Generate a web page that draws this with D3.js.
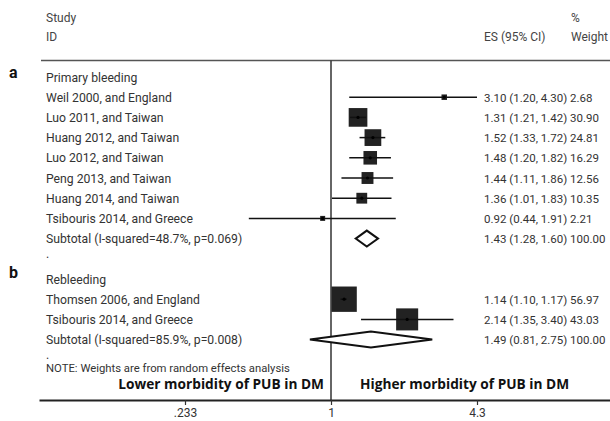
<!DOCTYPE html>
<html>
<head>
<meta charset="utf-8">
<script src="https://cdn.jsdelivr.net/npm/d3@7"></script>
<style>
  body { margin: 0; background: #fff; }
  svg text { font-family: Roboto, "Open Sans", sans-serif; }
</style>
</head>
<body>
<div id="forest"></div>
<script>
// Rows of the forest plot, top to bottom
const rowLabels = [
    "Primary bleeding",
    "Weil 2000, and England",
    "Luo 2011, and Taiwan",
    "Huang 2012, and Taiwan",
    "Luo 2012, and Taiwan",
    "Peng 2013, and Taiwan",
    "Huang 2014, and Taiwan",
    "Tsibouris 2014, and Greece",
    "Subtotal (I-squared=48.7%, p=0.069)",
    ".",
    "Rebleeding",
    "Thomsen 2006, and England",
    "Tsibouris 2014, and Greece",
    "Subtotal (I-squared=85.9%, p=0.008)",
    "."
];
const rowTypes = ["head", "study", "study", "study", "study", "study", "study", "study", "sub", "blank",
    "head", "study", "study", "sub", "blank"];
const es = [null, 3.10, 1.31, 1.52, 1.48, 1.44, 1.36, 0.92, 1.43, null, null, 1.14, 2.14, 1.49, null];
const ciLow = [null, 1.20, 1.21, 1.33, 1.20, 1.11, 1.01, 0.44, 1.28, null, null, 1.10, 1.35, 0.81, null];
const ciHigh = [null, 4.30, 1.42, 1.72, 1.82, 1.86, 1.83, 1.91, 1.60, null, null, 1.17, 3.40, 2.75, null];
const weights = [null, 2.68, 30.90, 24.81, 16.29, 12.56, 10.35, 2.21, 100.00, null, null, 56.97, 43.03, 100.00, null];

const axisTicks = [1 / 4.3, 1, 4.3];
const axisTickLabels = [".233", "1", "4.3"];
const favours = ["Lower morbidity of PUB in DM", "Higher morbidity of PUB in DM"];
const note = "NOTE: Weights are from random effects analysis";

const width = 610, height = 421;

const svg = d3.select("#forest")
    .append("svg")
    .attr("width", width)
    .attr("height", height);

// Log scale, symmetric around 1
const x = d3.scaleLog()
    .domain([1 / 18.49, 18.49])
    .range([39, 623]);

// One row every ~20px
const y = d3.scaleLinear()
    .domain([0, rowLabels.length - 1])
    .range([77, 77 + 20.2 * (rowLabels.length - 1)]);

// Square side grows with sqrt of weight
const side = d3.scaleSqrt()
    .domain([0, 100])
    .range([0, 33.6]);

const fmt = d3.format(".2f");
const axisY = 400;
const topY = 60.5;

// Column headers
svg.append("text").attr("x", 46).attr("y", 22).attr("font-size", 12).attr("fill", "#444").text("Study");
svg.append("text").attr("x", 46).attr("y", 41).attr("font-size", 12).attr("fill", "#444").text("ID");
svg.append("text").attr("x", 484).attr("y", 41).attr("font-size", 12).attr("fill", "#444").text("ES (95% CI)");
svg.append("text").attr("x", 571).attr("y", 22).attr("font-size", 12).attr("fill", "#444").text("%");
svg.append("text").attr("x", 571).attr("y", 41).attr("font-size", 12).attr("fill", "#444").text("Weight");

// Panel letters
svg.append("text").attr("x", 9).attr("y", 78).attr("font-size", 16).attr("font-weight", "bold").attr("fill", "#111").text("a");
svg.append("text").attr("x", 9).attr("y", 278).attr("font-size", 16).attr("font-weight", "bold").attr("fill", "#111").text("b");

// Top rule
svg.append("line")
    .attr("x1", 41).attr("x2", width)
    .attr("y1", topY).attr("y2", topY)
    .attr("stroke", "#555").attr("stroke-width", 1.5);

// Null line at 1
svg.append("line")
    .attr("x1", x(1)).attr("x2", x(1))
    .attr("y1", topY).attr("y2", axisY)
    .attr("stroke", "#333").attr("stroke-width", 1.5);

const rows = rowLabels.map((label, i) => ({
    label, type: rowTypes[i], es: es[i], lo: ciLow[i], hi: ciHigh[i], w: weights[i], i
}));

// Study labels (the blank-row dots sit a little higher)
svg.append("g").selectAll("text")
    .data(rows)
    .enter()
    .append("text")
    .attr("x", 46)
    .attr("y", d => y(d.i) + (d.type === "blank" ? -1 : 4.5))
    .attr("font-size", 12.2)
    .attr("fill", "#333")
    .text(d => d.label);

// ES (95% CI) and weight column
svg.append("g").selectAll("text")
    .data(rows.filter(d => d.es !== null))
    .enter()
    .append("text")
    .attr("x", 484)
    .attr("y", d => y(d.i) + 4.5)
    .attr("font-size", 11.5)
    .attr("fill", "#333")
    .text(d => `${fmt(d.es)} (${fmt(d.lo)}, ${fmt(d.hi)}) ${fmt(d.w)}`);

const studyRows = rows.filter(d => d.type === "study");

// Weight squares
svg.append("g").selectAll("rect")
    .data(studyRows)
    .enter()
    .append("rect")
    .attr("x", d => x(d.es) - side(d.w) / 2)
    .attr("y", d => y(d.i) - side(d.w) / 2)
    .attr("width", d => side(d.w))
    .attr("height", d => side(d.w))
    .attr("fill", "#222");

// Confidence intervals
svg.append("g").selectAll("line")
    .data(studyRows)
    .enter()
    .append("line")
    .attr("x1", d => x(d.lo))
    .attr("x2", d => x(d.hi))
    .attr("y1", d => y(d.i))
    .attr("y2", d => y(d.i))
    .attr("stroke", "#111")
    .attr("stroke-width", 1.5);

// Point estimates
svg.append("g").selectAll("circle")
    .data(studyRows)
    .enter()
    .append("circle")
    .attr("cx", d => x(d.es))
    .attr("cy", d => y(d.i))
    .attr("r", 1.6)
    .attr("fill", "#000");

// Subtotal diamonds
svg.append("g").selectAll("path")
    .data(rows.filter(d => d.type === "sub"))
    .enter()
    .append("path")
    .attr("d", d => {
        const cy = y(d.i), h = 8;
        return `M${x(d.lo)},${cy}L${x(d.es)},${cy - h}L${x(d.hi)},${cy}L${x(d.es)},${cy + h}Z`;
    })
    .attr("fill", "#fff")
    .attr("stroke", "#111")
    .attr("stroke-width", 2);

// Note
svg.append("text").attr("x", 46).attr("y", 372).attr("font-size", 11.3).attr("fill", "#333").text(note);

// Favours labels
svg.append("text").attr("x", x(1) - 7).attr("y", 389)
    .attr("text-anchor", "end").attr("font-size", 13.7).attr("font-weight", "bold").attr("fill", "#111")
    .style("font-family", "'Open Sans', sans-serif")
    .text(favours[0]);
svg.append("text").attr("x", x(1) + 29).attr("y", 389)
    .attr("font-size", 13.7).attr("font-weight", "bold").attr("fill", "#111")
    .style("font-family", "'Open Sans', sans-serif")
    .text(favours[1]);

// X axis
const xAxis = svg.append("g")
    .attr("transform", `translate(0,${axisY})`)
    .call(d3.axisBottom(x)
        .tickValues(axisTicks)
        .tickFormat((d, i) => axisTickLabels[i])
        .tickSize(5)
        .tickSizeOuter(0)
        .tickPadding(3));
xAxis.select(".domain").attr("stroke", "#222").attr("stroke-width", 2);
xAxis.selectAll(".tick line").attr("stroke", "#333").attr("stroke-width", 1.2);
xAxis.selectAll(".tick text")
    .attr("font-size", 12)
    .attr("fill", "#333")
    .style("font-family", "Roboto, sans-serif");
</script>
</body>
</html>
